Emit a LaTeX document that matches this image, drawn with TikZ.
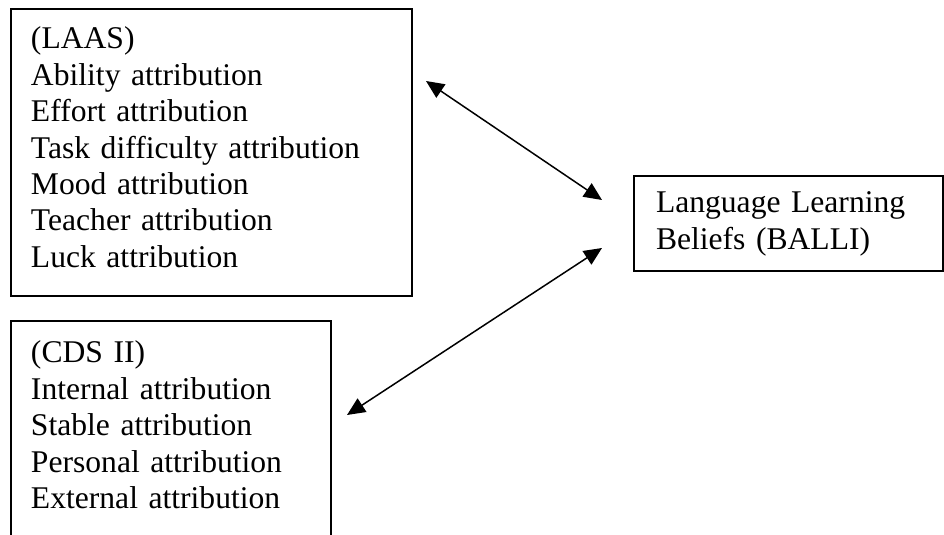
\documentclass[tikz,border=0pt]{standalone}
\usepackage{fontspec}
\setmainfont{Liberation Serif}
\usepackage{tikz}
\usetikzlibrary{arrows.meta,positioning}

\begin{document}
\begin{tikzpicture}[x=0.5pt,y=-0.5pt,
    box/.style={draw=black,line width=1pt,anchor=base west,align=left,
      inner xsep=10pt,inner ysep=0pt,font=\fontsize{15.8}{18.2}\selectfont},
    link/.style={{Triangle[length=9pt,width=8pt]}-{Triangle[length=9pt,width=8pt]},line width=0.75pt}
  ]
  \fill[white] (0,0) rectangle (944,535);
  \useasboundingbox (0,0) rectangle (944,535);
  \clip (0,0) rectangle (944,535);
  \node[box,text width=180.5pt,text height=20pt,text depth=123.5pt] (laas) at (10,49)
    {(LAAS)\\Ability attribution\\Effort attribution\\Task difficulty attribution\\Mood attribution\\Teacher attribution\\Luck attribution};
  \node[box,text width=140pt,text height=21pt,text depth=100pt] (cds) at (10,363)
    {(CDS II)\\Internal attribution\\Stable attribution\\Personal attribution\\External attribution};
  \node[box,inner xsep=11pt,text width=132.5pt,text height=18.5pt,text depth=29pt] (balli) at (633,213)
    {Language Learning\\Beliefs (BALLI)};
  % free arrow ends
  \coordinate (laasEnd) at (426,81);
  \coordinate (balliTop) at (602,200);
  \coordinate (balliLow) at (602,248);
  \coordinate (cdsEnd) at (347,415);
  \draw[link] (laasEnd) -- (balliTop);
  \draw[link] (balliLow) -- (cdsEnd);
\end{tikzpicture}
\end{document}
